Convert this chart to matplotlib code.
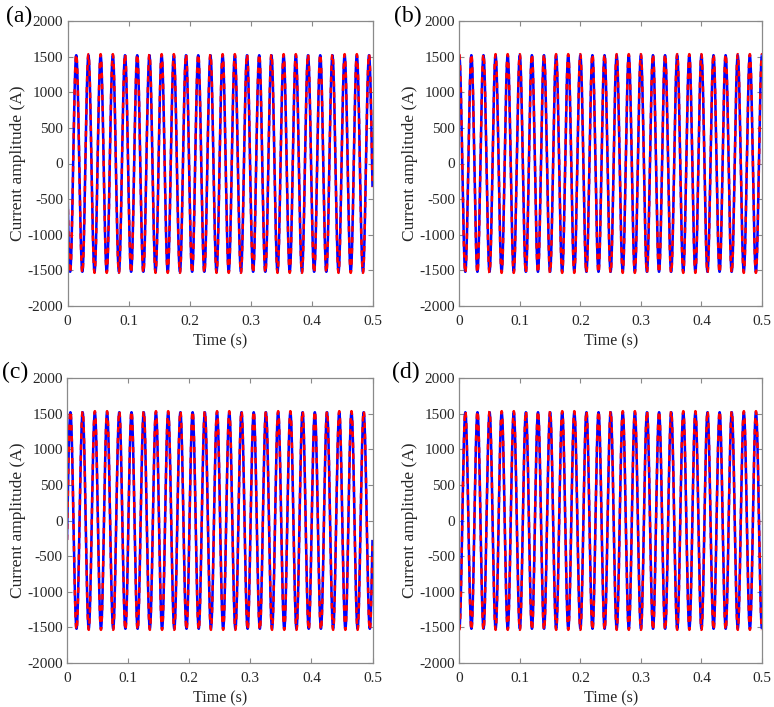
import numpy as np
import matplotlib
matplotlib.use("Agg")
import matplotlib.pyplot as plt

# ---- data ----
panel_labels = ["(a)", "(b)", "(c)", "(d)"]
frequency_hz = 50.0                     # 25 cycles in 0.5 s
amplitude_blue = [1520, 1520, 1520, 1520]   # solid blue trace (A)
amplitude_red = [1535, 1535, 1535, 1535]    # dashed red trace (A)
phase_rad = [3.36, 1.60, -0.18, -1.57]      # starting phase per panel
t_start, t_end, n_samples = 0.0, 0.5, 5001

x_ticks = [0, 0.1, 0.2, 0.3, 0.4, 0.5]
x_tick_labels = ["0", "0.1", "0.2", "0.3", "0.4", "0.5"]
y_ticks = [-2000, -1500, -1000, -500, 0, 500, 1000, 1500, 2000]
y_tick_labels = [str(v) for v in y_ticks]
x_label = "Time (s)"
y_label = "Current amplitude (A)"

# ---- figure ----
plt.rcParams["font.family"] = ["Liberation Serif", "DejaVu Serif"]
W, H = 774, 707
fig = plt.figure(figsize=(W / 100, H / 100), dpi=100)

# axes boxes in pixels: left, top, right, bottom
boxes = [
    (67.5, 21, 372.5, 306),
    (459.3, 21, 762, 306),
    (67.0, 378, 372.5, 663),
    (459.3, 378, 762, 663),
]
label_pos = [(6, 16), (394, 16), (2, 372), (392, 372)]

t = np.linspace(t_start, t_end, n_samples)
axis_col = "#8a8a8a"
text_col = "#262626"

for i, (l, tp, r, b) in enumerate(boxes):
    ax = fig.add_axes([l / W, 1 - b / H, (r - l) / W, (b - tp) / H])
    w = 2 * np.pi * frequency_hz * t + phase_rad[i]
    ax.plot(t, amplitude_blue[i] * np.sin(w), color="#0000ff", lw=1.8,
            solid_capstyle="butt")
    ax.plot(t, amplitude_red[i] * np.sin(w), color="#ff0000", lw=1.8,
            linestyle=(0, (2.2, 2.2)), dash_capstyle="butt")
    ax.set_xlim(0, 0.5)
    ax.set_ylim(-2000, 2000)
    ax.set_xticks(x_ticks)
    ax.set_xticklabels(x_tick_labels)
    ax.set_yticks(y_ticks)
    ax.set_yticklabels(y_tick_labels)
    ax.tick_params(direction="in", length=3.5, width=0.8, colors=axis_col,
                   labelcolor=text_col, labelsize=11, top=True, right=True)
    ax.tick_params(axis="x", pad=6.5)
    ax.tick_params(axis="y", pad=3)
    for s in ax.spines.values():
        s.set_color(axis_col)
        s.set_linewidth(0.9)
    ax.set_xlabel(x_label, fontsize=11.5, color=text_col, labelpad=4)
    ax.set_ylabel(y_label, fontsize=12.5, color=text_col, labelpad=1)
    lx, ly = label_pos[i]
    fig.text(lx / W, 1 - ly / H, panel_labels[i], fontsize=17,
             color="black", ha="left", va="center")

fig.savefig("out.png", dpi=100, facecolor="white")
